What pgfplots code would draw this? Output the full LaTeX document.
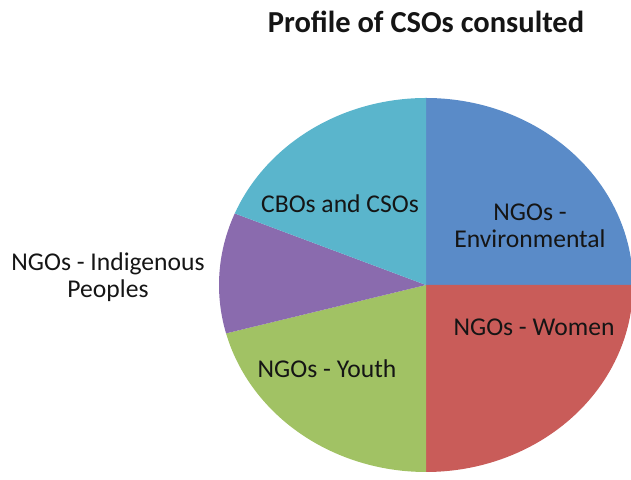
\documentclass[border=0pt]{standalone}
\usepackage{pgfplots}
\pgfplotsset{compat=1.18}
\usepackage{fontspec}
\setmainfont{Carlito}
\definecolor{pieblue}{HTML}{5A8BC8}
\definecolor{piered}{HTML}{C95C59}
\definecolor{piegreen}{HTML}{A1C264}
\definecolor{piepurple}{HTML}{8A6BAE}
\definecolor{piecyan}{HTML}{5AB5CC}
\definecolor{txt}{HTML}{151515}
\begin{document}
\begin{tikzpicture}
\def\cx{426}\def\cy{195}
\def\rx{207}\def\ry{187}
\begin{axis}[
  scale only axis, width=315.5pt, height=240pt,
  xmin=0, xmax=631, ymin=0, ymax=480,
  hide axis, clip=true,
]
\path (0,0) (631,480);
\gdef\angstart{90}
% slice values (clockwise from 12 o'clock)
\foreach \v/\c in {12/pieblue, 12/piered, 10/piegreen, 5/piepurple, 9/piecyan}{
  \pgfmathsetmacro\angend{\angstart-360*\v/48}
  \edef\temp{\noexpand\addplot[fill=\c, draw=none, domain=\angend:\angstart, samples=90] ({\cx+\rx*cos(x)},{\cy+\ry*sin(x)}) -- (\cx,\cy) -- cycle;}
  \temp
  \xdef\angstart{\angend}
}
\begin{scope}[every node/.style={font=\fontsize{12.8pt}{15pt}\selectfont, text=txt, anchor=base, inner sep=0pt}]
\node at (426,447) {\fontsize{15.25pt}{18pt}\selectfont\bfseries Profile of CSOs consulted};
\node at (530,259) {NGOs -};
\node at (530,232) {Environmental};
\node at (534,144) {NGOs - Women};
\node at (327,102) {NGOs - Youth};
\node at (340,267) {CBOs and CSOs};
\node at (108,209) {NGOs - Indigenous};
\node at (108,182) {Peoples};
\end{scope}
\end{axis}
\end{tikzpicture}
\end{document}
